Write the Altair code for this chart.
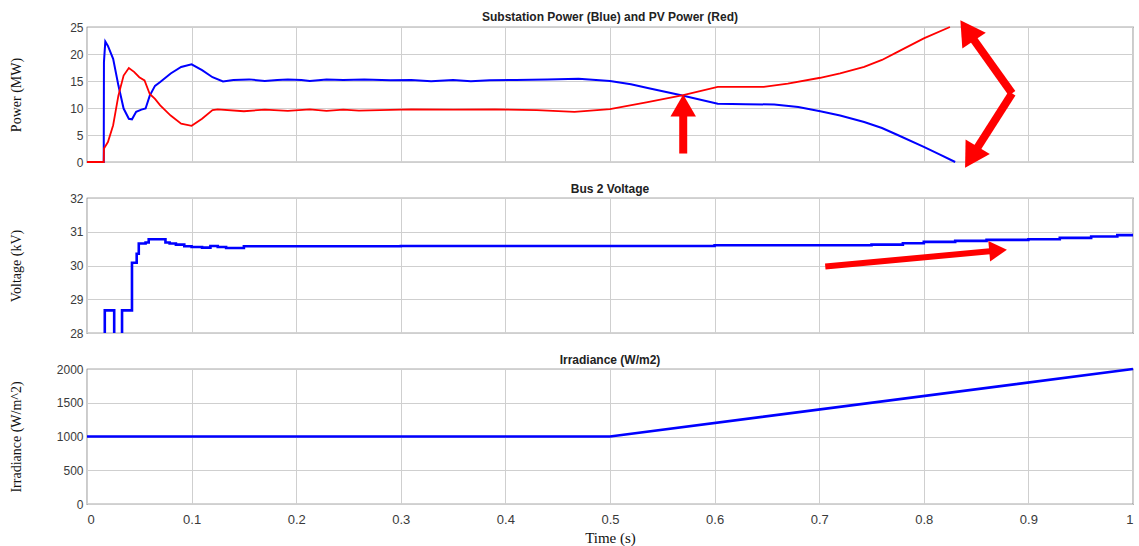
import altair as alt
import pandas as pd

# ---------------- data ----------------
x_ticks = [0, 0.1, 0.2, 0.3, 0.4, 0.5, 0.6, 0.7, 0.8, 0.9, 1.0]

# Substation power (blue)
t_blue = [0, 0.016, 0.0162, 0.0175, 0.02, 0.025, 0.03, 0.035, 0.04, 0.043,
          0.047, 0.052, 0.056, 0.06, 0.065, 0.07, 0.08, 0.09, 0.1, 0.11,
          0.12, 0.13, 0.14, 0.155, 0.17, 0.182, 0.192, 0.205, 0.213, 0.229,
          0.245, 0.265, 0.29, 0.31, 0.329, 0.35, 0.367, 0.385, 0.41, 0.44,
          0.47, 0.5, 0.52, 0.536, 0.567, 0.603, 0.63, 0.657, 0.68, 0.701,
          0.72, 0.743, 0.76, 0.775, 0.8, 0.815, 0.83]
p_blue = [0, 0, 18.5, 22.3, 21.5, 19.1, 14.2, 9.9, 8.0, 7.9,
          9.3, 9.7, 9.9, 12.3, 14.1, 14.8, 16.4, 17.6, 18.1, 17.0,
          15.7, 14.9, 15.2, 15.3, 15.0, 15.2, 15.3, 15.2, 15.0, 15.3,
          15.2, 15.3, 15.15, 15.2, 14.95, 15.2, 14.95, 15.15, 15.2, 15.3,
          15.4, 15.0, 14.4, 13.7, 12.4, 10.8, 10.7, 10.65, 10.2, 9.4,
          8.6, 7.4, 6.3, 5.0, 2.8, 1.4, 0]

# PV power (red)
t_red = [0, 0.016, 0.0162, 0.02, 0.025, 0.03, 0.035, 0.04, 0.045, 0.05,
         0.055, 0.06, 0.065, 0.07, 0.08, 0.09, 0.1, 0.11, 0.12, 0.125,
         0.15, 0.17, 0.192, 0.213, 0.229, 0.245, 0.26, 0.28, 0.31, 0.35,
         0.39, 0.43, 0.466, 0.5, 0.536, 0.57, 0.603, 0.647, 0.67, 0.701,
         0.72, 0.743, 0.76, 0.775, 0.8, 0.825]
p_red = [0, 0, 2.5, 3.7, 6.8, 12.3, 16.0, 17.4, 16.7, 15.7,
         15.1, 12.6, 11.7, 10.5, 8.6, 7.1, 6.7, 8.0, 9.6, 9.75,
         9.4, 9.7, 9.45, 9.75, 9.45, 9.7, 9.5, 9.6, 9.75, 9.7,
         9.75, 9.6, 9.3, 9.8, 11.1, 12.4, 13.9, 13.9, 14.5, 15.6,
         16.4, 17.6, 18.9, 20.4, 22.9, 25]

# Bus 2 voltage (kV), stepped
t_volt = [0, 0.017, 0.026, 0.0335, 0.043, 0.0475, 0.0495, 0.056, 0.059, 0.075,
          0.079, 0.085, 0.093, 0.1, 0.11, 0.118, 0.125, 0.133, 0.15, 0.3,
          0.5, 0.55, 0.6, 0.65, 0.7, 0.72, 0.75, 0.78, 0.8, 0.83,
          0.86, 0.9, 0.93, 0.96, 0.985, 1.0]
v_volt = [27, 28.67, 27, 28.67, 30.08, 30.35, 30.65, 30.68, 30.78, 30.68,
          30.65, 30.62, 30.57, 30.55, 30.53, 30.58, 30.55, 30.52, 30.57, 30.58,
          30.58, 30.58, 30.6, 30.6, 30.6, 30.6, 30.62, 30.66, 30.7, 30.73,
          30.76, 30.78, 30.82, 30.86, 30.9, 30.92]

# Irradiance (W/m2)
t_irr = [0, 0.5, 1.0]
v_irr = [1000, 1000, 2000]

# Red annotation arrows (data units): shaft start, head centre, head angle
arrow_panel = ["power", "power", "power", "voltage"]
arrow_t0 = [0.570, 0.8844, 0.8844, 0.7058]
arrow_v0 = [1.57, 12.7, 12.7, 29.97]
arrow_t1 = [0.570, 0.8415, 0.8455, 0.871]
arrow_v1 = [10.46, 24.35, 0.89, 30.445]
arrow_angle = [0, 326, 211, 85]
arrow_width = [8, 8, 8, 6]
arrow_head = [650, 800, 800, 420]

# ---------------- frames ----------------
df_blue = pd.DataFrame({"t": t_blue, "v": p_blue})
df_red = pd.DataFrame({"t": t_red, "v": p_red})
df_volt = pd.DataFrame({"t": t_volt, "v": v_volt})
df_irr = pd.DataFrame({"t": t_irr, "v": v_irr})
df_arr = pd.DataFrame({"panel": arrow_panel, "t": arrow_t0, "v": arrow_v0,
                       "t2": arrow_t1, "v2": arrow_v1, "a": arrow_angle,
                       "w": arrow_width, "s": arrow_head})

W, H = 1046, 135
RED = "#ff0000"
BLUE = "#0000ff"

xs = alt.Scale(domain=[0, 1], nice=False, zero=False)


def x_axis(show):
    if show:
        return alt.Axis(values=x_ticks, format=".1~f", title="Time (s)", grid=True,
                        ticks=False, domain=False, labelPadding=9, titlePadding=4,
                        labelFontSize=13, titleFontSize=15)
    return alt.Axis(values=x_ticks, labels=False, title=None, grid=True,
                    ticks=False, domain=False)


def y_axis(title, vals):
    return alt.Axis(values=vals, title=title, grid=True, ticks=False, domain=False,
                    format="d", minExtent=58, maxExtent=58, titlePadding=6,
                    labelPadding=4)


def y_scale(dom):
    return alt.Scale(domain=dom, nice=False, zero=False)


def arrows(panel, show_x, ytitle, yvals, ydom):
    d = df_arr[df_arr["panel"] == panel]
    shaft = alt.Chart(d).mark_rule(color=RED, strokeCap="butt").encode(
        x=alt.X("t:Q", scale=xs, axis=x_axis(show_x)),
        y=alt.Y("v:Q", scale=y_scale(ydom), axis=y_axis(ytitle, yvals)),
        x2=alt.X2("t2:Q"), y2=alt.Y2("v2:Q"),
        strokeWidth=alt.StrokeWidth("w:Q", scale=None))
    head = alt.Chart(d).mark_point(shape="triangle-up", filled=True, color=RED,
                                   opacity=1, strokeWidth=0).encode(
        x=alt.X("t2:Q", scale=xs, axis=x_axis(show_x)),
        y=alt.Y("v2:Q", scale=y_scale(ydom), axis=y_axis(ytitle, yvals)),
        angle=alt.Angle("a:Q", scale=None),
        size=alt.Size("s:Q", scale=None))
    return [shaft, head]


def ttl(text):
    return alt.TitleParams(text, fontSize=12, fontWeight="bold", font="Liberation Sans",
                           color="#222222", offset=-4)


def line(df, color, width, ytitle, yvals, ydom, show_x, **kw):
    return alt.Chart(df).mark_line(color=color, strokeWidth=width, **kw).encode(
        x=alt.X("t:Q", scale=xs, axis=x_axis(show_x)),
        y=alt.Y("v:Q", scale=y_scale(ydom), axis=y_axis(ytitle, yvals)))


p_title, p_vals, p_dom = "Power (MW)", [0, 5, 10, 15, 20, 25], [0, 25]
v_title, v_vals, v_dom = "Voltage (kV)", [28, 29, 30, 31, 32], [28, 32]
i_title, i_vals, i_dom = "Irradiance (W/m^2)", [0, 500, 1000, 1500, 2000], [0, 2000]

top = alt.layer(
    line(df_blue, BLUE, 2, p_title, p_vals, p_dom, False),
    line(df_red, RED, 1.8, p_title, p_vals, p_dom, False),
    *arrows("power", False, p_title, p_vals, p_dom),
).properties(width=W, height=H, title=ttl("Substation Power (Blue) and PV Power (Red)"))

mid = alt.layer(
    line(df_volt, BLUE, 2.6, v_title, v_vals, v_dom, False,
         interpolate="step-after", clip=True),
    *arrows("voltage", False, v_title, v_vals, v_dom),
).properties(width=W, height=H, title=ttl("Bus 2 Voltage"))

bot = line(df_irr, BLUE, 2.6, i_title, i_vals, i_dom, True).properties(
    width=W, height=H, title=ttl("Irradiance (W/m2)"))

chart = alt.vconcat(top, mid, bot, spacing=13).properties(
    padding={"left": 8, "top": 10, "right": 0, "bottom": 0}
).configure_view(
    stroke="#555555", strokeWidth=1.2
).configure_axis(
    labelFont="Liberation Sans", labelFontSize=12, labelColor="#3a3a3a",
    titleFont="Liberation Serif", titleFontSize=14, titleFontWeight="normal",
    titleColor="#111111", gridColor="#cfcfcf", gridWidth=1
)

chart.save("out.html", embed_options={"renderer": "svg", "actions": False})
